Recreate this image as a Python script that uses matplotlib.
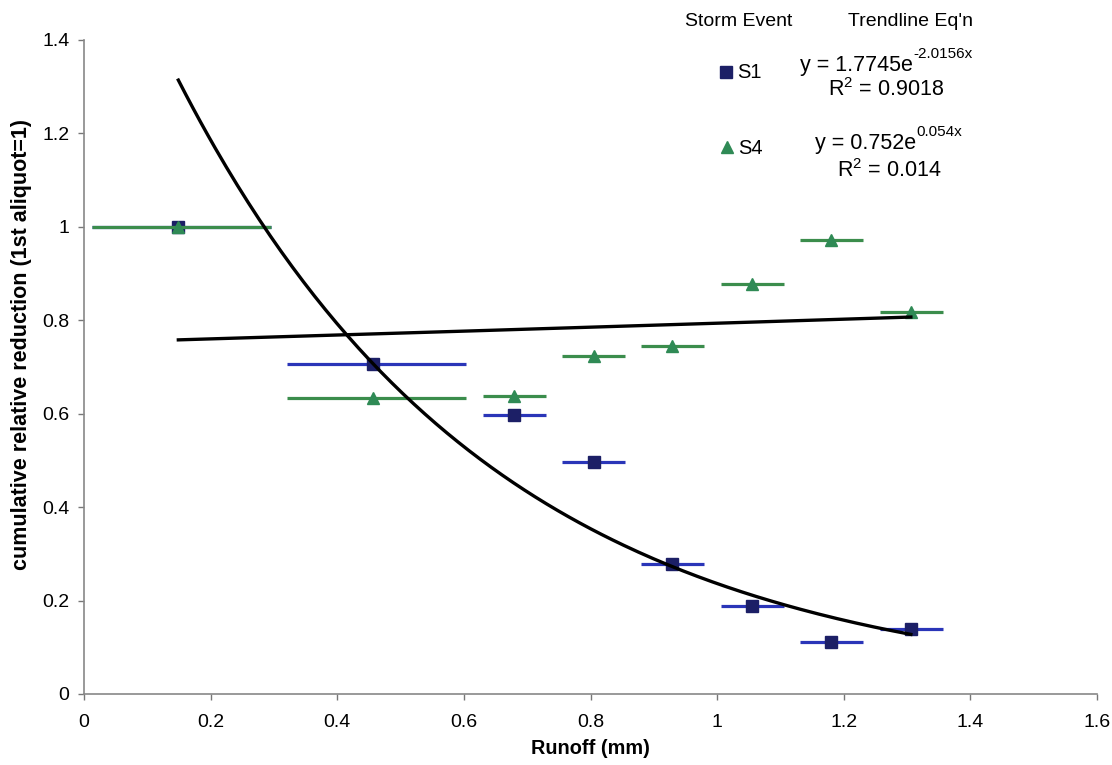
import numpy as np
import matplotlib
matplotlib.use("Agg")
import matplotlib.pyplot as plt
from matplotlib.lines import Line2D

plt.rcParams['font.family'] = ['Liberation Sans', 'DejaVu Sans']
plt.rcParams['mathtext.fontset'] = 'custom'
plt.rcParams['mathtext.rm'] = 'Liberation Sans'
plt.rcParams['mathtext.it'] = 'Liberation Sans'

# ---- data ----
runoff = [0.149, 0.457, 0.679, 0.805, 0.929, 1.055, 1.180, 1.306]
runoff_lo = [0.013, 0.321, 0.630, 0.755, 0.880, 1.006, 1.131, 1.257]
runoff_hi = [0.296, 0.604, 0.730, 0.854, 0.980, 1.105, 1.231, 1.357]
s1 = [1.000, 0.707, 0.597, 0.497, 0.278, 0.188, 0.112, 0.140]
s4 = [1.000, 0.633, 0.637, 0.723, 0.744, 0.877, 0.972, 0.817]
s1_a, s1_b, s1_r2 = 1.7745, -2.0156, 0.9018
s4_a, s4_b, s4_r2 = 0.752, 0.054, 0.014
xticks = [0, 0.2, 0.4, 0.6, 0.8, 1.0, 1.2, 1.4, 1.6]
yticks = [0, 0.2, 0.4, 0.6, 0.8, 1.0, 1.2, 1.4]

W, H = 1112, 765
fig = plt.figure(figsize=(W / 100, H / 100), dpi=100)
ax = fig.add_axes([84 / W, 1 - 694 / H, (1097 - 84) / W, (694 - 40) / H])

x = np.array(runoff)
xerr = [x - np.array(runoff_lo), np.array(runoff_hi) - x]

navy = '#1c1f66'
blue = '#2a35b8'
green = '#2f8a55'
green_bar = '#3b8d4c'

ax.errorbar(x, s1, xerr=xerr, fmt='s', color=navy, ecolor=blue, elinewidth=2.3,
            capsize=0, markersize=9, zorder=3)
ax.errorbar(x, s4, xerr=xerr, fmt='^', color=green, ecolor=green_bar, elinewidth=2.3,
            capsize=0, markersize=8.5, zorder=4)

xt = np.linspace(x[0], x[-1], 200)
ax.plot(xt, s1_a * np.exp(s1_b * xt), color='black', lw=2.4, zorder=5)
ax.plot(xt, s4_a * np.exp(s4_b * xt), color='black', lw=2.4, zorder=5)

ax.set_xlim(0, 1.6)
ax.set_ylim(0, 1.4)
ax.set_xticks(xticks)
ax.set_yticks(yticks)
ax.set_xticklabels(['%g' % v for v in xticks])
ax.set_yticklabels(['%g' % v for v in yticks])
ax.tick_params(direction='out', length=4.5, width=1, color='#777777', labelsize=14)
ax.tick_params(axis='y', pad=6)
ax.tick_params(axis='x', pad=10)
for s in ['top', 'right']:
    ax.spines[s].set_visible(False)
for s in ['left', 'bottom']:
    ax.spines[s].set_color('#888888')
    ax.spines[s].set_linewidth(1.2)

ax.set_xlabel('Runoff (mm)', fontsize=14.3, fontweight='bold')
ax.set_ylabel('cumulative relative reduction (1st aliquot=1)', fontsize=15.5,
              fontweight='bold')
ax.xaxis.label.set_va('center')
ax.yaxis.label.set_va('center')
ax.xaxis.set_label_coords(0.5, (694 - 748) / 654)
ax.yaxis.set_label_coords((22 - 84) / 1013, (694 - 345) / 654)

# ---- legend / equations ----
def fx(px):
    return px / W

def fy(py):
    return 1 - py / H

fs = 14
fe = 15.5
fsup = 11
fig.text(fx(739), fy(22), 'Storm Event', fontsize=fs, ha='center', va='center')
fig.text(fx(910), fy(22), "Trendline Eq'n", fontsize=fs, ha='center', va='center')
fig.add_artist(Line2D([fx(726)], [fy(72)], marker='s', color=navy, markersize=8,
                      transform=fig.transFigure))
fig.text(fx(737), fy(73), 'S1', fontsize=14.5, ha='left', va='center')
fig.add_artist(Line2D([fx(727)], [fy(147)], marker='^', color=green, markersize=8,
                      transform=fig.transFigure))
fig.text(fx(738), fy(148), 'S4', fontsize=14.5, ha='left', va='center')

renderer = fig.canvas.get_renderer()


def equation(left_px, base_py, a, b, afmt, bfmt):
    t = fig.text(fx(left_px), fy(base_py), 'y = ' + afmt % a + 'e', fontsize=fe,
                 ha='left', va='baseline')
    bb = t.get_window_extent(renderer)
    fig.text(bb.x1 / W + 0.5 / W, fy(base_py - 13), bfmt % b, fontsize=fsup,
             ha='left', va='baseline')


equation(800, 71, s1_a, s1_b, '%.4f', '%.4fx')
fig.text(fx(886), fy(90), r'R$^2$ = %.4f' % s1_r2, fontsize=fe, ha='center', va='center')
equation(815, 149, s4_a, s4_b, '%.3f', '%.3fx')
fig.text(fx(889), fy(171), r'R$^2$ = %.3f' % s4_r2, fontsize=fe, ha='center', va='center')

fig.savefig('out.png', dpi=100)
